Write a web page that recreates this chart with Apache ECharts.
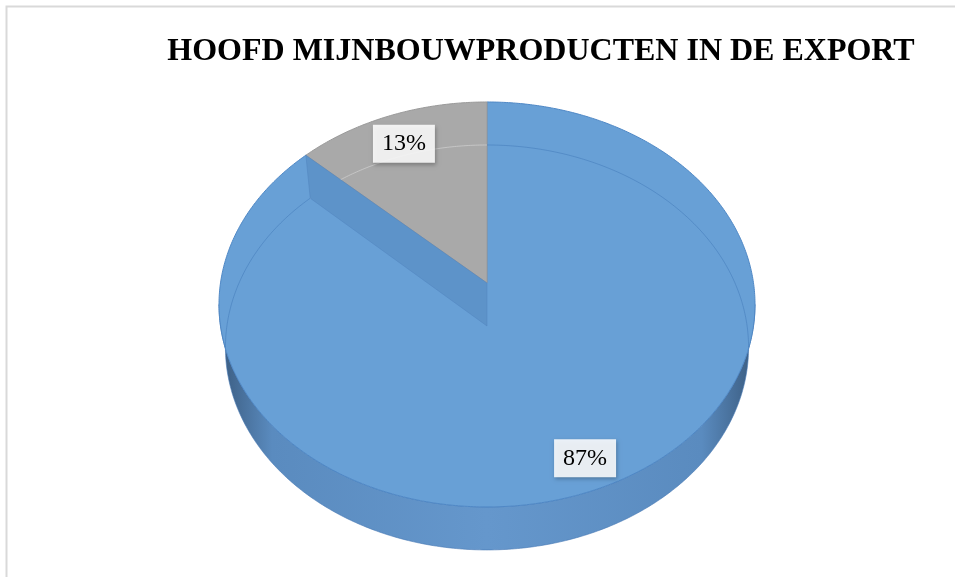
<!DOCTYPE html>
<html><head><meta charset="utf-8">
<script src="https://cdn.jsdelivr.net/npm/echarts@6/dist/echarts.min.js"></script>
<style>html,body{margin:0;padding:0;background:#fff}#c{width:955px;height:577px}</style>
</head><body><div id="c"></div>
<script>
// ---- data ----
const TITLE = 'HOOFD MIJNBOUWPRODUCTEN IN DE EXPORT';
const CATEGORIES = ['Categorie 1', 'Categorie 2'];
const VALUES = [87, 13];
const TOP_COLORS = ['#68a0d6', '#a9a9a9'];

// ---- geometry / style ----
const G = {cx: 487, cy: 283, rx: 266.5, ry: 200.2, k: 0.106, depth: 43, shrink: 0.024, labelR: 0.85, labelDy: 5};
const TOTAL = VALUES.reduce((a, b) => a + b, 0);
function angles(i, v) {
  let acc = 0; for (let j = 0; j < i; j++) acc += VALUES[j];
  return [acc / TOTAL * 2 * Math.PI, (acc + v) / TOTAL * 2 * Math.PI];
}
function P(th, r, h) {
  const c = Math.cos(th), s = Math.sin(th);
  const f = 1 / (1 + G.k * r * c);
  const sc = 1 - G.shrink * h / G.depth;
  return [G.cx + G.rx * sc * r * s * f, G.cy - G.ry * r * c * f + h];
}
function arc(a0, a1, r, h) {
  const pts = []; const n = Math.max(2, Math.ceil(Math.abs(a1 - a0) / 0.01));
  for (let i = 0; i <= n; i++) pts.push(P(a0 + (a1 - a0) * i / n, r, h));
  return pts;
}
const FRONT0 = Math.acos(-G.k), FRONT1 = 2 * Math.PI - Math.acos(-G.k);

function renderSide(params, api) {
  const [a0, a1] = angles(params.dataIndex, api.value(0));
  const t0 = Math.max(a0, FRONT0), t1 = Math.min(a1, FRONT1);
  if (t1 <= t0) return {type: 'group', children: []};
  const top = arc(t0, t1, 1, 0), bot = arc(t0, t1, 1, G.depth).reverse();
  const dark = params.dataIndex === 0 ? ['#3a5b7f', '#5a8bbf', '#6597cc', '#5a8bbf', '#3a5b7f'] : ['#6a6a6a', '#8c8c8c', '#969696', '#8c8c8c', '#6a6a6a'];
  return {
    type: 'polygon', shape: {points: top.concat(bot)},
    style: {
      fill: new echarts.graphic.LinearGradient(0, 0, 1, 0, [
        {offset: 0, color: dark[0]}, {offset: 0.1, color: dark[1]}, {offset: 0.5, color: dark[2]},
        {offset: 0.9, color: dark[3]}, {offset: 1, color: dark[4]}]),
      stroke: 'rgba(70,120,180,0.6)', lineWidth: 1
    }
  };
}

function renderTop(params, api) {
  const i = params.dataIndex, v = api.value(0);
  const [a0, a1] = angles(i, v);
  const color = TOP_COLORS[i];
  const children = [];
  children.push({
    type: 'polygon', z2: 1,
    shape: {points: [P(0, 0, 0)].concat(arc(a0, a1, 1, 0))},
    style: {fill: color, stroke: i === 0 ? '#4f88c6' : '#9a9a9a', lineWidth: 1}
  });
  // hidden bottom rim seen through the top face
  const segs = [[a0, Math.min(a1, FRONT0)], [Math.max(a0, FRONT1), a1]];
  segs.forEach(([s0, s1]) => {
    if (s1 > s0) children.push({
      type: 'polyline', z2: 2, shape: {points: arc(s0, s1, 1, G.depth)},
      style: {fill: null, stroke: i === 0 ? 'rgba(60,115,180,0.45)' : 'rgba(210,210,210,0.7)', lineWidth: 1}
    });
  });
  // end (cut) face of slice seen through
  if (i === 0) {
    children.push({
      type: 'polygon', z2: 3,
      shape: {points: [P(a1, 1, 0), P(a1, 1, G.depth), P(a1, 0, G.depth), P(a1, 0, 0)]},
      style: {fill: '#5d93c9', stroke: 'rgba(80,130,190,0.6)', lineWidth: 0.8}
    });
  }
  // label
  const mid = (a0 + a1) / 2;
  const lp = P(mid, G.labelR, 0);
  children.push({
    type: 'text', z2: 10, x: lp[0], y: lp[1] + G.labelDy,
    style: {
      text: Math.round(v / TOTAL * 100) + '%',
      font: '24px "Liberation Serif", "Times New Roman", serif',
      fill: '#000', align: 'center', verticalAlign: 'middle',
      backgroundColor: 'rgba(255,255,255,0.87)', padding: [7, 9, 7, 9],
      shadowColor: 'rgba(0,0,0,0.3)', shadowBlur: 4, shadowOffsetX: 1, shadowOffsetY: 2
    }
  });
  return {type: 'group', children};
}

const chart = echarts.init(document.getElementById('c'), null, {renderer: 'canvas'});
const seriesData = CATEGORIES.map((c, i) => ({name: c, value: VALUES[i]}));
chart.setOption({
  animation: false,
  backgroundColor: '#fff',
  title: {
    text: TITLE, left: 536, textAlign: 'center', top: 31,
    textStyle: {fontFamily: '"Liberation Serif", "Times New Roman", serif', fontWeight: 'bold', fontSize: 32, color: '#000'}
  },
  graphic: [{
    type: 'rect', silent: true, shape: {x: 6.5, y: 6.5, width: 1000, height: 1000},
    style: {fill: null, stroke: '#d9d9d9', lineWidth: 2}
  }],
  series: [
    {type: 'custom', coordinateSystem: 'none', renderItem: renderSide, data: seriesData, z: 1, silent: true},
    {type: 'custom', coordinateSystem: 'none', renderItem: renderTop, data: seriesData, z: 2, silent: true}
  ]
});
</script></body></html>
